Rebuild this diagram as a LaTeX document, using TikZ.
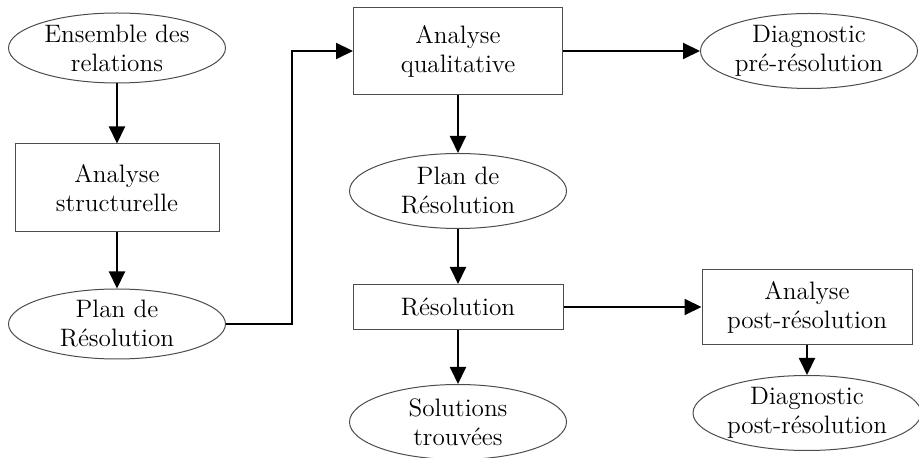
\documentclass[tikz,border=0pt]{standalone}
\usepackage{tikz}
\usetikzlibrary{arrows.meta,positioning,shapes.geometric}
\tikzset{
  base/.style={align=center, font=\fontsize{12.6pt}{14.5pt}\selectfont, draw=black!70, line width=0.5pt, text=black},
  etape/.style={base, rectangle, minimum width=105pt, minimum height=44pt},
  resultat/.style={base, ellipse, inner sep=0pt, minimum width=108.5pt, minimum height=37.5pt},
  line/.style={-{Triangle[length=8.5pt,width=8pt]}, line width=1pt, draw=black}
}

\begin{document}
\begin{tikzpicture}
  \useasboundingbox (0,0) rectangle (459.5pt,-229pt);

  % Left column: structural analysis
  \node[resultat, minimum height=35pt] (ens) at (58.5pt,-24pt) {Ensemble des\\relations};
  \node[etape, below=30pt of ens, minimum width=102pt] (struct) {Analyse\\structurelle};
  \node[resultat, below=28pt of struct, minimum height=35pt] (planL) {Plan de\\R\'esolution};

  % Middle column: qualitative analysis and solving
  \node[etape, minimum width=104.5pt, minimum height=43.5pt] (qual) at (229pt,-25.5pt) {Analyse\\qualitative};
  \node[resultat, below=29pt of qual] (planM) {Plan de\\R\'esolution};
  \node[etape, below=27.5pt of planM, minimum height=22.5pt] (res) {R\'esolution};
  \node[resultat, below=27pt of res] (sol) {Solutions\\trouv\'ees};

  % Right column: diagnostics
  \node[resultat, right=68.5pt of qual] (diagpre) {Diagnostic\\pr\'e-r\'esolution};
  \node[etape, right=69pt of res, minimum height=37.5pt] (post) {Analyse\\post-r\'esolution};
  \node[resultat, below=15pt of post, minimum width=114pt] (diagpost) {Diagnostic\\post-r\'esolution};

  % Edges
  \draw[line] (ens) -- (struct);
  \draw[line] (struct) -- (planL);
  \draw[line] (planL.east) -- ++(33pt,0) |- (qual.west);

  \draw[line] (qual) -- (diagpre);
  \draw[line] (qual) -- (planM);
  \draw[line] (planM) -- (res);
  \draw[line] (res) -- (sol);
  \draw[line] (res) -- (post);
  \draw[line] (post) -- (diagpost);

\end{tikzpicture}
\end{document}
